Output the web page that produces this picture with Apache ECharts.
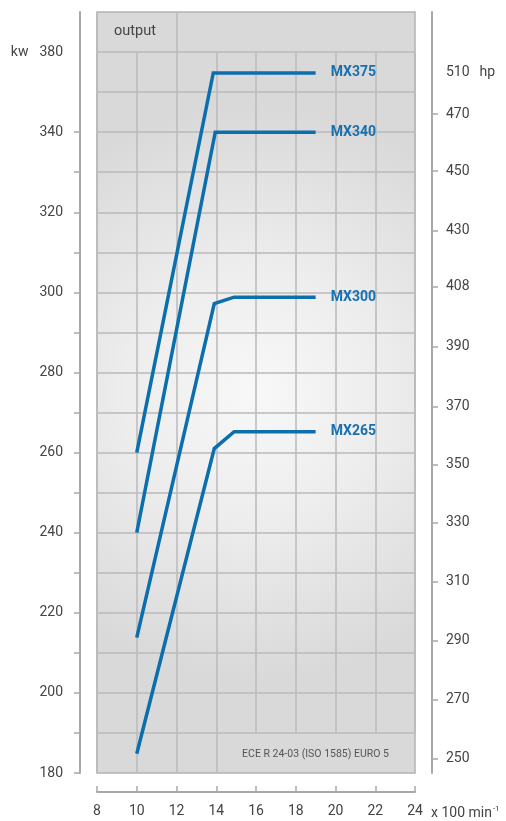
<!DOCTYPE html>
<html><head><meta charset="utf-8">
<script src="https://cdn.jsdelivr.net/npm/echarts@6/dist/echarts.min.js"></script>
<style>html,body{margin:0;padding:0;background:#fff}#c{width:506px;height:821px}</style>
</head><body><div id="c"></div>
<script>
// ---- data (kW on left scale, rpm x 100 on x) ----
const rpmMX375 = [10, 13.85, 19];
const kwMX375  = [260, 354.8, 354.8];
const rpmMX340 = [10, 13.95, 19];
const kwMX340  = [240, 340, 340];
const rpmMX300 = [10, 13.9, 14.9, 19];
const kwMX300  = [213.8, 297.2, 298.8, 298.8];
const rpmMX265 = [10, 13.9, 14.9, 19];
const kwMX265  = [184.8, 261, 265.2, 265.2];

// ---- axis tick labels ----
const kwTickValues  = [180,190,200,210,220,230,240,250,260,270,280,290,300,310,320,330,340];
const kwLabelValues = [180,200,220,240,260,280,300,320,340,360];
const kwLabelTexts  = ['180','200','220','240','260','280','300','320','340','380'];
const hpLabelKw     = [355, 344.5, 330.25, 315.5, 301.5, 286.5, 271.5, 257, 242.5, 227.75, 213, 198.25, 183.5];
const hpLabelTexts  = ['510','470','450','430','408','390','370','350','330','310','290','270','250'];
const hpTickKw      = hpLabelKw.slice(1);

const FONT = 'Roboto, "DejaVu Sans", sans-serif';
const AXIS_C = '#a8a8a8';
const GRID_C = '#bababa';
const LINE_C = '#0b6fad';
const LABEL_C = '#1770b0';
const TXT_C = '#444';

function pairs(xs, ys){ return xs.map((x,i)=>[x, ys[i]]); }

const seriesDefs = [
  {name:'MX375', x:rpmMX375, y:kwMX375},
  {name:'MX340', x:rpmMX340, y:kwMX340},
  {name:'MX300', x:rpmMX300, y:kwMX300},
  {name:'MX265', x:rpmMX265, y:kwMX265}
];

// plot frame in pixels
const PL = 97, PR = 415, PT = 12, PB = 773, W = 506, H = 821;
const pxPerRpm = (PR-PL)/16, pxPerKw = (PB-PT)/190;
const xPx = v => PL + (v-8)*pxPerRpm;
const yPx = v => PB - (v-180)*pxPerKw;

function gridAxes(gi, xmin, xmax, xint, ymin, ymax, yint, showX, showY){
  return {
    x:{gridIndex:gi, type:'value', min:xmin, max:xmax, interval:xint,
       axisLine:{show:false}, axisTick:{show:false}, axisLabel:{show:false},
       splitLine:{show:showX, lineStyle:{color:GRID_C, width:1.5}}},
    y:{gridIndex:gi, type:'value', min:ymin, max:ymax, interval:yint,
       axisLine:{show:false}, axisTick:{show:false}, axisLabel:{show:false},
       splitLine:{show:showY, lineStyle:{color:GRID_C, width:1.5}}}
  };
}
const gMain = gridAxes(1, 8, 24, 2, 190, 360, 10, true, true);
const gBottom = gridAxes(2, 8, 14, 2, 180, 190, 10, true, false);
const gHead = gridAxes(3, 8, 12, 4, 360, 370, 10, true, false);

const chart = echarts.init(document.getElementById('c'));
chart.setOption({
  animation:false,
  grid:[
    {left:PL, right:W-PR, top:PT, bottom:H-PB, show:true,
     backgroundColor: new echarts.graphic.RadialGradient(0.5,0.5,0.9,[
       {offset:0,color:'#f8f8f8'},{offset:0.45,color:'#ededed'},{offset:1,color:'#d9d9d9'}]),
     borderColor:'#b3b3b3', borderWidth:1.5},
    {left:PL, right:W-PR, top:yPx(360), bottom:H-yPx(190)},
    {left:PL, right:W-xPx(14), top:yPx(190), bottom:H-PB},
    {left:PL, right:W-xPx(12), top:PT, bottom:H-yPx(360)}
  ],
  xAxis:[
    {gridIndex:0, type:'value', min:8, max:24, interval:2, offset:19,
     axisLine:{show:true, lineStyle:{color:AXIS_C, width:2}},
     axisTick:{show:true, inside:true, length:6, lineStyle:{color:AXIS_C, width:1.5}},
     axisLabel:{margin:12, color:TXT_C, fontSize:14, fontFamily:FONT},
     splitLine:{show:false}},
    gMain.x, gBottom.x, gHead.x
  ],
  yAxis:[
    {gridIndex:0, type:'value', min:180, max:370, interval:10, position:'left', offset:17,
     axisLine:{show:true, lineStyle:{color:AXIS_C, width:2}},
     axisTick:{show:true, length:6, customValues:kwTickValues, lineStyle:{color:AXIS_C, width:1.5}},
     axisLabel:{margin:17, color:TXT_C, fontSize:14, fontFamily:FONT, customValues:kwLabelValues,
       formatter:v=>{const i=kwLabelValues.indexOf(v); const t=i>=0?kwLabelTexts[i]:''; return v===360?'{u|kw}'+t:t;},
       rich:{u:{fontSize:14, color:TXT_C, fontFamily:FONT, padding:[0,11,0,0]}}},
     splitLine:{show:false}},
    {gridIndex:0, type:'value', min:180, max:370, position:'right', offset:17,
     axisLine:{show:true, lineStyle:{color:AXIS_C, width:2}},
     axisTick:{show:true, length:6, customValues:hpTickKw, lineStyle:{color:AXIS_C, width:1.5}},
     axisLabel:{margin:14, color:TXT_C, fontSize:14, fontFamily:FONT, customValues:hpLabelKw,
       formatter:v=>{let i=-1; hpLabelKw.forEach((k,j)=>{if(Math.abs(k-v)<0.01)i=j;}); const t=i>=0?hpLabelTexts[i]:''; return i===0?t+'{u|hp}':t;},
       rich:{u:{fontSize:14, color:TXT_C, fontFamily:FONT, padding:[0,0,0,10]}}},
     splitLine:{show:false}},
    gMain.y, gBottom.y, gHead.y
  ],
  series: seriesDefs.map(s=>({
    name:s.name, type:'line', xAxisIndex:0, yAxisIndex:0,
    data:pairs(s.x, s.y), showSymbol:false, symbol:'none', z:5,
    lineStyle:{color:LINE_C, width:3.5, join:'miter', cap:'butt'},
    endLabel:{show:true, formatter:'{a}', distance:15, color:LABEL_C, fontWeight:'bold', fontSize:14, fontFamily:FONT}
  })),
  graphic:[
    {type:'text', left:114, top:24, style:{text:'output', fill:TXT_C, font:'14.5px '+FONT}},
    {type:'text', right:W-389, top:749, style:{text:'ECE R 24-03 (ISO 1585) EURO 5', fill:'#555', font:'10.5px '+FONT}},
    {type:'text', left:431, top:805, style:{
      text:'{a|x 100 min}{s|-1}',
      rich:{a:{fontSize:14, fill:TXT_C, fontFamily:FONT}, s:{fontSize:8, fill:TXT_C, fontFamily:FONT, padding:[0,0,9,1]}}}}
  ]
});
</script></body></html>
